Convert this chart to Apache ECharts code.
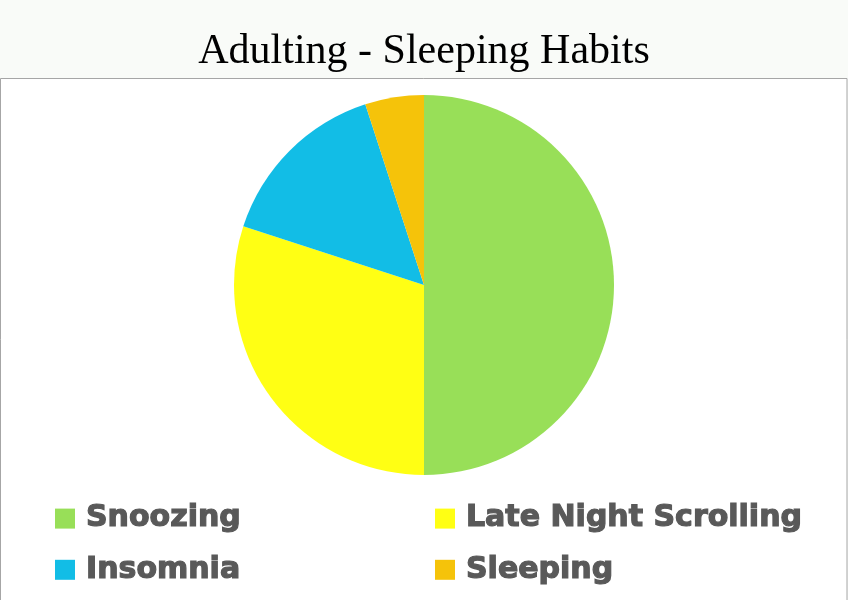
<!DOCTYPE html>
<html>
<head>
<meta charset="utf-8">
<script src="https://cdn.jsdelivr.net/npm/echarts@6/dist/echarts.min.js"></script>
<style>
html,body{margin:0;padding:0;background:#f9fbf8;}
#c{width:848px;height:600px;}
</style>
</head>
<body>
<div id="c"></div>
<script>
const categories = ['Snoozing', 'Late Night Scrolling', 'Insomnia', 'Sleeping'];
const values = [50, 30, 15, 5];
const colors = ['#98df58', '#ffff14', '#12bde6', '#f5c30a'];

const chart = echarts.init(document.getElementById('c'));
const data = categories.map((n, i) => ({ name: n, value: values[i], itemStyle: { color: colors[i] } }));
const legendBase = {
  orient: 'vertical',
  top: 503,
  padding: 0,
  itemWidth: 20,
  itemHeight: 20,
  itemGap: 20,
  icon: 'rect',
  selectedMode: false,
  textStyle: {
    fontFamily: 'DejaVu Sans', fontWeight: 'bold', fontSize: 30, color: '#595959',
    textBorderColor: '#595959', textBorderWidth: 1.2,
    padding: [0, 0, 0, 6]
  }
};
chart.setOption({
  animation: false,
  backgroundColor: '#f9fbf8',
  graphic: [{
    type: 'rect', z: -10, silent: true,
    shape: { x: 0.5, y: 78.5, width: 846.5, height: 530 },
    style: { fill: '#ffffff', stroke: '#a6a6a6', lineWidth: 1 }
  }],
  title: {
    text: 'Adulting - Sleeping Habits',
    left: 'center',
    top: 26,
    textStyle: { fontFamily: 'Liberation Serif', fontWeight: 'normal', fontSize: 42, color: '#000000' }
  },
  legend: [
    Object.assign({}, legendBase, { left: 55, data: [categories[0], categories[2]] }),
    Object.assign({}, legendBase, { left: 435, data: [categories[1], categories[3]] })
  ],
  series: [{
    type: 'pie',
    center: [424, 285],
    radius: 190,
    startAngle: 90,
    clockwise: true,
    label: { show: false },
    labelLine: { show: false },
    emphasis: { disabled: true },
    itemStyle: { borderWidth: 0 },
    data: data
  }]
});
</script>
</body>
</html>
